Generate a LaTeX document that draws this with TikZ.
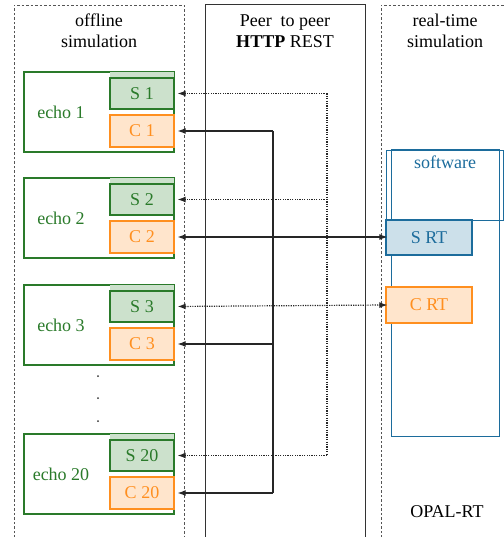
\documentclass[tikz,border=0pt]{standalone}
\usepackage{fontspec}
\setmainfont{Liberation Serif}
\usetikzlibrary{arrows.meta,calc}
\definecolor{gstroke}{HTML}{2A7A2A}
\definecolor{gfill}{HTML}{CCE1CC}
\definecolor{ostroke}{HTML}{FF8F1F}
\definecolor{ofill}{HTML}{FFE5CC}
\definecolor{bstroke}{HTML}{1C6C9C}
\definecolor{bfill}{HTML}{CCE0EA}
\definecolor{frame}{HTML}{555555}
\tikzset{
  panel/.style={draw=frame, line width=0.9bp, dash pattern=on 2.5bp off 2bp},
  midpanel/.style={draw=black!80, line width=1bp},
  echobox/.style={draw=gstroke, line width=1.3bp, minimum width=150bp, minimum height=80bp, inner sep=0pt},
  sbox/.style={draw=gstroke, fill=gfill, line width=1.3bp, minimum width=64bp, minimum height=31bp, inner sep=0pt, text=gstroke},
  cbox/.style={draw=ostroke, fill=ofill, line width=1.3bp, minimum width=64bp, minimum height=32bp, inner sep=0pt, text=ostroke},
  echolabel/.style={text=gstroke, inner sep=0pt},
  title/.style={align=center, inner sep=0pt},
  dotline/.style={line width=1.2bp, dash pattern=on 1.2bp off 1.2bp, black!85},
  solidline/.style={line width=1.2bp, black!85},
  tip/.style={-{Latex[length=8bp,width=6bp]}},
  bothtip/.style={{Latex[length=8bp,width=6bp]}-{Latex[length=8bp,width=6bp]}},
  dotmark/.style={circle, fill=black!80, inner sep=0pt, minimum size=2bp},
}
\begin{document}
\begin{tikzpicture}[x=1bp,y=-1bp, font=\fontsize{18bp}{21bp}\selectfont]
\useasboundingbox (0,0) rectangle (504,537);
\clip (0,0) rectangle (504,537);
% panels
\draw[panel] (14,560) -- (14,5) -- (184,5) -- (184,560);
\draw[midpanel] (205,560) -- (205,5) -- (365,5) -- (365,560);
\draw[panel] (381,560) -- (381,5) -- (520,5);
% titles
\node[title] (t1) at (99,31) {offline\\simulation};
\node[title] (t2) at (285,31) {Peer~ to peer\\\textbf{HTTP} REST};
\node[title] (t3) at (445,31) {real-time\\simulation};
% echo boxes
\foreach \n/\y in {1/112, 2/218, 3/325, 20/474}{
  \node[echobox] (e\n) at (99,\y) {};
  \fill[gfill] (110,\y-40) rectangle (174,\y-34);
  \node[sbox] (s\n) at (142,\y-18.5) {S \n};
  \node[cbox] (c\n) at (142,\y+19) {C \n};
  \node[echolabel] (l\n) at (61,\y) {echo \n};
}
\node[dotmark] (d1) at (98,376) {};
\node[dotmark] (d2) at (98,398) {};
\node[dotmark] (d3) at (98,421) {};
% real-time side
\node[draw=bstroke, line width=1.3bp, minimum width=108bp, minimum height=287bp, inner sep=0pt, anchor=north west] (hw) at (391,149) {};
\node[draw=bstroke, line width=1.3bp, minimum width=117bp, minimum height=70bp, inner sep=0pt, anchor=north west] (sw) at (386,150) {};
\node[text=bstroke, inner sep=0pt] (swl) at (445,162) {software};
\node[draw=bstroke, fill=bfill, line width=1.3bp, minimum width=86bp, minimum height=35bp, inner sep=0pt, text=bstroke] (srt) at (429,237.5) {S RT};
\node[draw=ostroke, fill=ofill, line width=1.3bp, minimum width=86bp, minimum height=36bp, inner sep=0pt, text=ostroke] (crt) at (429,305) {C RT};
\node[inner sep=0pt] (opal) at (447,512) {OPAL-RT};
% buses
\coordinate (xs) at (327,0);
\coordinate (xc) at (273,0);
\draw[dotline] (s1.east -| xs) -- (s20.east -| xs);
\foreach \n in {1,2,20}{
  \draw[dotline,tip,shorten >=3bp] (s\n.east -| xs) -- (s\n.east);
}
\draw[dotline,bothtip,shorten <=3bp,shorten >=-2bp] (s3.east) -- (crt.west);
\draw[solidline] (c1.east -| xc) -- (c20.east -| xc);
\foreach \n in {1,3,20}{
  \draw[solidline,tip,shorten >=3bp] (c\n.east -| xc) -- (c\n.east);
}
\draw[solidline,bothtip,shorten <=3bp,shorten >=-2bp] (c2.east) -- (c2.east -| srt.west);
\end{tikzpicture}
\end{document}
